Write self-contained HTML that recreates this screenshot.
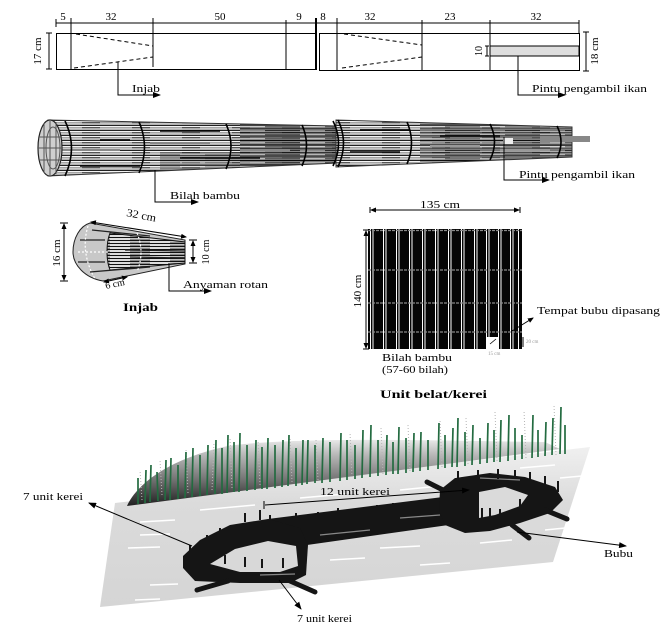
<!DOCTYPE html>
<html><head><meta charset="utf-8"><style>
html,body{margin:0;padding:0;background:#fff;}
svg{display:block;}
text{font-family:"Liberation Serif",serif;fill:#000;}
</style></head><body>
<svg width="660" height="625" viewBox="0 0 660 625" xmlns="http://www.w3.org/2000/svg">
<defs>
<marker id="ah" markerWidth="8" markerHeight="6" refX="7" refY="3" orient="auto" markerUnits="userSpaceOnUse"><path d="M0,0 L8,3 L0,6 z" fill="#000"/></marker>
<marker id="as" markerWidth="6" markerHeight="5" refX="5" refY="2.5" orient="auto-start-reverse" markerUnits="userSpaceOnUse"><path d="M0,0 L6,2.5 L0,5 z" fill="#000"/></marker>
<pattern id="st1" width="50" height="5" patternUnits="userSpaceOnUse">
 <rect width="50" height="5" fill="#f4f4f4"/>
 <rect y="0" width="50" height="1" fill="#222"/>
 <rect y="2" width="32" height="1.3" fill="#a5a5a5"/>
 <rect x="32" y="2" width="18" height="1.3" fill="#555"/>
 <rect y="3.8" width="50" height="0.8" fill="#888"/>
</pattern>
<pattern id="st2" width="60" height="4" patternUnits="userSpaceOnUse">
 <rect width="60" height="4" fill="#666"/>
 <rect y="0" width="60" height="1.2" fill="#000"/>
 <rect y="2.2" width="25" height="1" fill="#ccc"/>
 <rect x="25" y="2.2" width="35" height="1" fill="#222"/>
</pattern>
<pattern id="st3" width="40" height="3" patternUnits="userSpaceOnUse">
 <rect width="40" height="3" fill="#ddd"/>
 <rect y="0" width="40" height="1" fill="#111"/>
 <rect x="10" y="1.8" width="20" height="0.8" fill="#555"/>
</pattern>
<linearGradient id="plane" x1="0" y1="447" x2="0" y2="607" gradientUnits="userSpaceOnUse">
 <stop offset="0" stop-color="#f0f0f0"/>
 <stop offset="0.35" stop-color="#dbdbdb"/>
 <stop offset="1" stop-color="#d5d5d5"/>
</linearGradient>
<linearGradient id="hill" x1="0" y1="505" x2="0" y2="438" gradientUnits="userSpaceOnUse">
 <stop offset="0" stop-color="#222"/>
 <stop offset="0.4" stop-color="#777"/>
 <stop offset="0.75" stop-color="#b8b8b8"/>
 <stop offset="1" stop-color="#eeeeee"/>
</linearGradient>
<clipPath id="c1"><polygon points="48,120 340,126 340,163 48,176"/></clipPath>
<clipPath id="c2"><polygon points="336,120 572,127 572,157 336,167"/></clipPath>
</defs>

<!-- ============ TOP TECHNICAL DRAWING ============ -->
<g stroke="#000" stroke-width="1" fill="none">
 <line x1="56" y1="23" x2="316" y2="23"/>
 <line x1="56" y1="19" x2="56" y2="27"/>
 <rect x="56.5" y="33.5" width="260" height="36"/>
 <line x1="71" y1="18" x2="71" y2="70"/>
 <line x1="153" y1="18" x2="153" y2="67"/>
 <line x1="286" y1="20" x2="286" y2="70"/>
 <line x1="316" y1="18" x2="316" y2="70" stroke-width="2"/>
 <line x1="76" y1="34" x2="153" y2="46" stroke-dasharray="4,3"/>
 <line x1="74" y1="68" x2="153" y2="57" stroke-dasharray="4,3"/>
 <line x1="49" y1="33" x2="49" y2="69"/>
 <line x1="46" y1="33" x2="52" y2="33"/>
 <line x1="46" y1="69" x2="52" y2="69"/>
 <polyline points="118,62 118,95 160,95" marker-end="url(#ah)"/>

 <line x1="317" y1="23" x2="579" y2="23"/>
 <rect x="319.5" y="33.5" width="260" height="37"/>
 <line x1="337" y1="18" x2="337" y2="71"/>
 <line x1="422" y1="20" x2="422" y2="70"/>
 <line x1="490" y1="20" x2="490" y2="70"/>
 <line x1="579" y1="20" x2="579" y2="33"/>
 <line x1="344" y1="34" x2="422" y2="45" stroke-dasharray="4,3"/>
 <line x1="342" y1="68" x2="422" y2="57" stroke-dasharray="4,3"/>
 <rect x="490" y="46" width="89" height="10" fill="#dedede"/>
 <line x1="487" y1="46" x2="487" y2="56"/>
 <line x1="485" y1="46" x2="489" y2="46"/>
 <line x1="485" y1="56" x2="489" y2="56"/>
 <line x1="586" y1="32" x2="586" y2="71"/>
 <line x1="583" y1="32" x2="589" y2="32"/>
 <line x1="583" y1="71" x2="589" y2="71"/>
 <polyline points="518,56 518,95 565,95" marker-end="url(#ah)"/>
</g>
<g font-size="11" text-anchor="middle">
 <text x="63" y="20">5</text>
 <text x="111" y="20">32</text>
 <text x="220" y="20">50</text>
 <text x="299" y="20">9</text>
 <text x="323" y="20">8</text>
 <text x="370" y="20">32</text>
 <text x="450" y="20">23</text>
 <text x="536" y="20">32</text>
 <text transform="translate(41,51) rotate(-90)">17 cm</text>
 <text transform="translate(482,51) rotate(-90)" font-size="10">10</text>
 <text transform="translate(598,51) rotate(-90)">18 cm</text>
</g>
<text x="132" y="92" font-size="11" textLength="28" lengthAdjust="spacingAndGlyphs">Injab</text>
<text x="532" y="92" font-size="11" textLength="115" lengthAdjust="spacingAndGlyphs">Pintu pengambil ikan</text>

<!-- ============ CYLINDER ============ -->
<g clip-path="url(#c1)">
 <rect x="40" y="115" width="305" height="65" fill="url(#st1)"/>
 <rect x="240" y="115" width="105" height="65" fill="url(#st2)" opacity="0.7"/>
 <rect x="160" y="152" width="80" height="28" fill="url(#st2)" opacity="0.35"/>
 <g stroke="#000" stroke-width="1.5">
  <line x1="80" y1="166" x2="140" y2="166"/>
  <line x1="160" y1="131" x2="220" y2="131"/>
  <line x1="180" y1="158" x2="260" y2="158"/>
  <line x1="100" y1="140" x2="130" y2="140"/>
 </g>
 <g stroke="#888" stroke-width="2">
  <line x1="60" y1="150" x2="120" y2="150"/>
  <line x1="150" y1="143" x2="210" y2="143"/>
  <line x1="240" y1="150" x2="290" y2="150"/>
 </g>
</g>
<polygon points="48,120 338,126 338,163 48,176" fill="none" stroke="#333" stroke-width="1"/>
<g clip-path="url(#c2)">
 <rect x="330" y="115" width="250" height="60" fill="url(#st1)"/>
 <rect x="420" y="115" width="155" height="60" fill="url(#st2)" opacity="0.55"/>
 <g stroke="#000" stroke-width="1.5">
  <line x1="350" y1="152" x2="400" y2="152"/>
  <line x1="360" y1="130" x2="410" y2="130"/>
  <line x1="440" y1="136" x2="500" y2="136"/>
 </g>
 <g stroke="#999" stroke-width="2">
  <line x1="430" y1="146" x2="480" y2="146"/>
  <line x1="500" y1="150" x2="550" y2="150"/>
 </g>
</g>
<polygon points="336,120 572,127 572,157 336,167" fill="none" stroke="#333" stroke-width="1"/>
<rect x="540" y="136" width="50" height="6" fill="#888"/>
<rect x="503" y="138" width="10" height="6" fill="#eee"/>
<ellipse cx="50" cy="148" rx="12" ry="28" fill="#cfcfcf" stroke="#222" stroke-width="1.2"/>
<g stroke="#555" stroke-width="1">
 <ellipse cx="53" cy="148" rx="7" ry="21" fill="none"/>
 <line x1="44" y1="123" x2="44" y2="173"/>
 <line x1="50" y1="121" x2="50" y2="175"/>
 <line x1="56" y1="122" x2="56" y2="174"/>
 <line x1="39" y1="137" x2="62" y2="137"/>
 <line x1="38" y1="148" x2="62" y2="148"/>
 <line x1="39" y1="160" x2="62" y2="160"/>
</g>
<g stroke="#000" stroke-width="1.6" fill="none">
 <path d="M65,121 Q78,148 65,176"/>
 <path d="M139,122 Q150,147 139,173"/>
 <path d="M226,124 Q236,146 226,169"/>
 <path d="M302,125 Q311,145 302,166"/>
 <path d="M333,121 Q344,143 333,166"/>
 <path d="M338,120 Q349,143 338,167"/>
 <path d="M407,122 Q416,143 407,164"/>
 <path d="M490,124 Q499,142 490,160"/>
 <path d="M557,126 Q565,142 557,158"/>
</g>
<g stroke="#000" stroke-width="1" fill="none">
 <polyline points="155,170 155,202 198,202" marker-end="url(#ah)"/>
 <polyline points="504,137 504,180 549,180" marker-end="url(#ah)"/>
</g>
<text x="170" y="199" font-size="11" textLength="70" lengthAdjust="spacingAndGlyphs">Bilah bambu</text>
<text x="519" y="178" font-size="11" textLength="116" lengthAdjust="spacingAndGlyphs">Pintu pengambil ikan</text>

<!-- ============ INJAB DETAIL ============ -->
<path d="M90,223 L185,240 L185,264 L103,281 C85,278 73,265 73,252 C73,238 80,226 90,223 Z" fill="#c8c8c8" stroke="#222" stroke-width="1"/>
<path d="M110,233 L185,242 L185,263 L110,270 C106,260 106,243 110,233 Z" fill="url(#st3)" stroke="#111" stroke-width="1"/>
<g stroke="#222" stroke-width="1.3">
 <line x1="80" y1="240" x2="105" y2="240"/>
 <line x1="78" y1="262" x2="105" y2="262"/>
 <line x1="90" y1="272" x2="150" y2="267"/>
 <line x1="92" y1="230" x2="150" y2="236"/>
 <line x1="125" y1="250" x2="185" y2="251"/>
 <line x1="130" y1="257" x2="185" y2="258"/>
</g>
<g stroke="#fff" stroke-width="1.2" stroke-dasharray="2,2" fill="none">
 <path d="M88,226 Q80,252 95,279"/>
 <path d="M137,233 Q145,252 137,272"/>
 <line x1="78" y1="252" x2="108" y2="252"/>
</g>
<g stroke="#000" stroke-width="1" fill="none">
 <line x1="64" y1="224" x2="64" y2="280" marker-start="url(#as)" marker-end="url(#as)"/>
 <line x1="60" y1="223" x2="68" y2="223"/>
 <line x1="60" y1="281" x2="68" y2="281"/>
 <line x1="91" y1="222" x2="186" y2="237" marker-start="url(#as)" marker-end="url(#as)"/>
 <line x1="193" y1="241" x2="193" y2="262" marker-start="url(#as)" marker-end="url(#as)"/>
 <line x1="189" y1="240" x2="197" y2="240"/>
 <line x1="189" y1="263" x2="197" y2="263"/>
 <line x1="104" y1="282" x2="127" y2="277" marker-start="url(#as)" marker-end="url(#as)"/>
 <polyline points="169,263 169,291 211,291" marker-end="url(#ah)"/>
</g>
<text transform="translate(126,216) rotate(11)" font-size="11" textLength="30" lengthAdjust="spacingAndGlyphs">32 cm</text>
<text transform="translate(60,253) rotate(-90)" font-size="11" text-anchor="middle">16 cm</text>
<text transform="translate(209,252) rotate(-90)" font-size="10" text-anchor="middle">10 cm</text>
<text transform="translate(106,289) rotate(-12)" font-size="10">6 cm</text>
<text x="183" y="288" font-size="11" textLength="85" lengthAdjust="spacingAndGlyphs">Anyaman rotan</text>
<text x="123" y="311" font-size="12" font-weight="bold" textLength="35" lengthAdjust="spacingAndGlyphs">Injab</text>

<!-- ============ UNIT BELAT / KEREI ============ -->
<rect x="368" y="229" width="154" height="120" fill="#050505"/>
<g fill="#fff">
 <rect x="370" y="229" width="1" height="120"/><rect x="372.5" y="229" width="1" height="120"/>
 <rect x="383" y="229" width="1" height="120"/><rect x="385.5" y="229" width="1" height="120"/>
 <rect x="396" y="229" width="1" height="120"/><rect x="398.5" y="229" width="1" height="120"/>
 <rect x="409" y="229" width="1" height="120"/><rect x="411.5" y="229" width="1" height="120"/>
 <rect x="422" y="229" width="1" height="120"/><rect x="424.5" y="229" width="1" height="120"/>
 <rect x="435" y="229" width="1" height="120"/><rect x="437.5" y="229" width="1" height="120"/>
 <rect x="448" y="229" width="1" height="120"/><rect x="450.5" y="229" width="1" height="120"/>
 <rect x="461" y="229" width="1" height="120"/><rect x="463.5" y="229" width="1" height="120"/>
 <rect x="474" y="229" width="1" height="120"/><rect x="476.5" y="229" width="1" height="120"/>
 <rect x="486" y="229" width="1" height="120"/><rect x="488.5" y="229" width="1" height="120"/>
 <rect x="498" y="229" width="1" height="120"/><rect x="500.5" y="229" width="1" height="120"/>
 <rect x="510" y="229" width="1" height="120"/><rect x="512.5" y="229" width="1" height="120"/>
 <rect x="518" y="229" width="1" height="120"/>
</g>
<g stroke="#8a8a8a" stroke-width="1.2" stroke-dasharray="3,1">
 <line x1="368" y1="230.5" x2="522" y2="230.5"/>
 <line x1="368" y1="270" x2="522" y2="270"/>
 <line x1="368" y1="303" x2="522" y2="303"/>
 <line x1="368" y1="332" x2="522" y2="332"/>
</g>
<rect x="487" y="337" width="11" height="12" fill="#fff"/>
<line x1="490" y1="344" x2="496" y2="339" stroke="#000" stroke-width="0.8"/>
<g stroke="#000" stroke-width="1" fill="none">
 <line x1="371" y1="210" x2="519" y2="210" marker-start="url(#as)" marker-end="url(#as)"/>
 <line x1="370" y1="207" x2="370" y2="213"/>
 <line x1="520" y1="207" x2="520" y2="213"/>
 <line x1="366" y1="231" x2="366" y2="348" marker-start="url(#as)" marker-end="url(#as)"/>
 <line x1="363" y1="230" x2="369" y2="230"/>
 <line x1="363" y1="349" x2="369" y2="349"/>
 <line x1="512" y1="331" x2="533" y2="318" marker-end="url(#as)"/>
 <line x1="523" y1="337" x2="523" y2="347"/>
</g>
<text x="420" y="208" font-size="11" textLength="40" lengthAdjust="spacingAndGlyphs">135 cm</text>
<text transform="translate(361,291) rotate(-90)" font-size="11" text-anchor="middle">140 cm</text>
<text x="537" y="314" font-size="11" textLength="123" lengthAdjust="spacingAndGlyphs">Tempat bubu dipasang</text>
<text x="526" y="343" font-size="5" style="fill:#999">20 cm</text>
<text x="488" y="355" font-size="5" style="fill:#999">15 cm</text>
<text x="382" y="361" font-size="11" textLength="70" lengthAdjust="spacingAndGlyphs">Bilah bambu</text>
<text x="382" y="373" font-size="11" textLength="66" lengthAdjust="spacingAndGlyphs">(57-60 bilah)</text>
<text x="380" y="398" font-size="12" font-weight="bold" textLength="107" lengthAdjust="spacingAndGlyphs">Unit belat/kerei</text>

<!-- ============ BOTTOM SCENE ============ -->
<polygon points="115,503 590,447 553,562 100,607" fill="url(#plane)"/>
<path d="M127,506 C138,482 172,458 228,446 C300,436 450,441 545,442 L560,449 Z" fill="url(#hill)"/>
<g stroke="#b5b5b5" stroke-width="1" stroke-dasharray="1,2">
 <line x1="142" y1="500" x2="140" y2="470"/><line x1="162" y1="495" x2="160" y2="460"/>
 <line x1="188" y1="493" x2="186" y2="450"/><line x1="212" y1="490" x2="214" y2="442"/>
 <line x1="232" y1="488" x2="230" y2="438"/><line x1="260" y1="485" x2="258" y2="440"/>
 <line x1="292" y1="482" x2="290" y2="438"/><line x1="318" y1="480" x2="316" y2="440"/>
 <line x1="352" y1="477" x2="350" y2="432"/><line x1="383" y1="474" x2="381" y2="428"/>
 <line x1="410" y1="471" x2="408" y2="425"/><line x1="442" y1="467" x2="440" y2="420"/>
 <line x1="468" y1="464" x2="466" y2="418"/><line x1="497" y1="461" x2="495" y2="412"/>
 <line x1="526" y1="458" x2="524" y2="410"/><line x1="556" y1="455" x2="554" y2="405"/>
</g>
<g stroke="#236b40" stroke-width="1.7">
 <line x1="138" y1="504" x2="138" y2="478"/><line x1="145" y1="503" x2="146" y2="470"/>
 <line x1="150" y1="502" x2="151" y2="465"/><line x1="158" y1="501" x2="157" y2="472"/>
 <line x1="165" y1="500" x2="166" y2="460"/><line x1="170" y1="500" x2="171" y2="458"/>
 <line x1="178" y1="499" x2="178" y2="465"/><line x1="185" y1="498" x2="186" y2="452"/>
 <line x1="192" y1="497" x2="193" y2="448"/><line x1="200" y1="496" x2="200" y2="455"/>
 <line x1="207" y1="495" x2="208" y2="445"/><line x1="215" y1="494" x2="216" y2="440"/>
 <line x1="222" y1="494" x2="222" y2="448"/><line x1="227" y1="493" x2="228" y2="435"/>
 <line x1="234" y1="492" x2="234" y2="442"/><line x1="239" y1="492" x2="240" y2="433"/>
 <line x1="247" y1="491" x2="247" y2="445"/><line x1="255" y1="490" x2="256" y2="440"/>
 <line x1="262" y1="489" x2="262" y2="447"/><line x1="267" y1="489" x2="268" y2="438"/>
 <line x1="275" y1="488" x2="275" y2="445"/><line x1="282" y1="487" x2="283" y2="440"/>
 <line x1="288" y1="486" x2="289" y2="435"/><line x1="296" y1="486" x2="296" y2="448"/>
 <line x1="302" y1="485" x2="303" y2="440"/><line x1="307" y1="484" x2="308" y2="440"/>
 <line x1="315" y1="483" x2="315" y2="445"/><line x1="322" y1="483" x2="323" y2="438"/>
 <line x1="330" y1="482" x2="330" y2="442"/><line x1="340" y1="481" x2="341" y2="433"/>
 <line x1="347" y1="480" x2="347" y2="440"/><line x1="355" y1="479" x2="355" y2="445"/>
 <line x1="362" y1="478" x2="363" y2="430"/><line x1="370" y1="477" x2="371" y2="425"/>
 <line x1="378" y1="476" x2="378" y2="440"/><line x1="386" y1="475" x2="387" y2="435"/>
 <line x1="393" y1="474" x2="393" y2="442"/><line x1="398" y1="474" x2="399" y2="427"/>
 <line x1="406" y1="473" x2="406" y2="438"/><line x1="413" y1="472" x2="414" y2="433"/>
 <line x1="420" y1="471" x2="421" y2="432"/><line x1="428" y1="470" x2="428" y2="440"/>
 <line x1="438" y1="469" x2="439" y2="423"/><line x1="445" y1="468" x2="445" y2="435"/>
 <line x1="452" y1="467" x2="453" y2="428"/><line x1="457" y1="467" x2="458" y2="418"/>
 <line x1="465" y1="466" x2="465" y2="432"/><line x1="472" y1="465" x2="473" y2="425"/>
 <line x1="480" y1="464" x2="480" y2="438"/><line x1="487" y1="463" x2="488" y2="423"/>
 <line x1="494" y1="462" x2="494" y2="430"/><line x1="500" y1="462" x2="501" y2="420"/>
 <line x1="508" y1="461" x2="509" y2="415"/><line x1="515" y1="460" x2="515" y2="428"/>
 <line x1="522" y1="459" x2="522" y2="435"/><line x1="532" y1="458" x2="533" y2="415"/>
 <line x1="538" y1="457" x2="538" y2="430"/><line x1="545" y1="456" x2="546" y2="422"/>
 <line x1="552" y1="455" x2="553" y2="418"/><line x1="560" y1="454" x2="561" y2="407"/>
 <line x1="565" y1="454" x2="565" y2="425"/>
</g>
<g stroke="#fff" stroke-width="1.5">
 <line x1="140" y1="522" x2="175" y2="520"/><line x1="200" y1="510" x2="255" y2="505"/>
 <line x1="300" y1="498" x2="345" y2="494"/><line x1="400" y1="490" x2="440" y2="486"/>
 <line x1="520" y1="468" x2="555" y2="465"/><line x1="560" y1="478" x2="582" y2="476"/>
 <line x1="128" y1="548" x2="160" y2="547"/><line x1="140" y1="535" x2="170" y2="534"/>
 <line x1="330" y1="560" x2="365" y2="558"/><line x1="150" y1="585" x2="178" y2="584"/>
 <line x1="480" y1="543" x2="512" y2="540"/><line x1="380" y1="548" x2="420" y2="546"/>
 <line x1="420" y1="565" x2="450" y2="563"/><line x1="250" y1="595" x2="280" y2="593"/>
 <line x1="135" y1="600" x2="160" y2="599"/><line x1="545" y1="530" x2="565" y2="528"/>
 <line x1="330" y1="535" x2="360" y2="533"/><line x1="455" y1="478" x2="490" y2="476"/>
</g>
<g fill="#151515">
 <polygon points="268,519 475,493 477,521 300,546"/>
 <polygon points="183,556 200,540 230,525 268,519 300,528 308,545 306,575 290,583 240,583 195,581 183,568"/>
 <polygon points="440,490 455,478 490,473 525,477 555,487 563,500 550,513 520,523 490,531 465,533 445,525 439,510"/>
</g>
<polygon points="210,564 235,549 268,541 296,546 298,566 280,572 240,572" fill="#d8d8d8"/>
<polygon points="479,492 505,487 528,495 520,506 495,515 479,518" fill="#dadada"/>
<g stroke="#151515" stroke-linecap="round">
 <line x1="197" y1="590" x2="228" y2="581" stroke-width="5"/>
 <line x1="290" y1="581" x2="315" y2="592" stroke-width="5"/>
 <line x1="427" y1="482" x2="447" y2="492" stroke-width="5"/>
 <line x1="545" y1="510" x2="567" y2="519" stroke-width="5"/>
 <line x1="512" y1="525" x2="529" y2="538" stroke-width="5"/>
</g>
<g stroke="#888" stroke-width="1.2">
 <line x1="320" y1="535" x2="370" y2="530"/><line x1="400" y1="518" x2="440" y2="515"/>
 <line x1="260" y1="575" x2="295" y2="574"/><line x1="480" y1="478" x2="520" y2="480"/>
</g>
<g stroke="#151515" stroke-width="2">
 <line x1="190" y1="545" x2="190" y2="555"/><line x1="207" y1="535" x2="207" y2="543"/>
 <line x1="220" y1="528" x2="220" y2="538"/><line x1="245" y1="513" x2="245" y2="522"/>
 <line x1="260" y1="510" x2="260" y2="520"/><line x1="270" y1="515" x2="270" y2="525"/>
 <line x1="296" y1="513" x2="296" y2="523"/><line x1="318" y1="512" x2="318" y2="522"/>
 <line x1="338" y1="508" x2="338" y2="518"/><line x1="358" y1="508" x2="358" y2="518"/>
 <line x1="377" y1="505" x2="377" y2="515"/><line x1="393" y1="503" x2="393" y2="513"/>
 <line x1="408" y1="502" x2="408" y2="512"/><line x1="423" y1="502" x2="423" y2="510"/>
 <line x1="437" y1="500" x2="437" y2="510"/>
 <line x1="225" y1="555" x2="225" y2="564"/><line x1="245" y1="557" x2="245" y2="567"/>
 <line x1="262" y1="559" x2="262" y2="568"/><line x1="283" y1="558" x2="283" y2="568"/>
 <line x1="458" y1="471" x2="458" y2="481"/><line x1="478" y1="470" x2="478" y2="480"/>
 <line x1="498" y1="469" x2="498" y2="479"/><line x1="515" y1="470" x2="515" y2="478"/>
 <line x1="530" y1="472" x2="530" y2="482"/><line x1="545" y1="476" x2="545" y2="487"/>
 <line x1="558" y1="481" x2="558" y2="492"/>
 <line x1="452" y1="497" x2="452" y2="505"/><line x1="465" y1="497" x2="465" y2="507"/>
 <line x1="482" y1="508" x2="482" y2="518"/><line x1="490" y1="508" x2="490" y2="518"/>
 <line x1="500" y1="509" x2="500" y2="518"/><line x1="520" y1="499" x2="520" y2="508"/>
</g>
<g stroke="#000" stroke-width="1" fill="none">
 <line x1="192" y1="546" x2="89" y2="503" marker-end="url(#ah)"/>
 <line x1="279" y1="580" x2="301" y2="609" marker-end="url(#ah)"/>
 <line x1="517" y1="532" x2="626" y2="546" marker-end="url(#ah)"/>
 <line x1="265" y1="505" x2="469" y2="490" marker-end="url(#ah)"/>
 <line x1="264" y1="501" x2="264" y2="509"/>
</g>
<text x="23" y="500" font-size="11" textLength="60" lengthAdjust="spacingAndGlyphs">7 unit kerei</text>
<text x="320" y="495" font-size="11" textLength="70" lengthAdjust="spacingAndGlyphs">12  unit kerei</text>
<text x="297" y="622" font-size="11" textLength="55" lengthAdjust="spacingAndGlyphs">7 unit kerei</text>
<text x="604" y="557" font-size="11" textLength="29" lengthAdjust="spacingAndGlyphs">Bubu</text>
</svg>
</body></html>
